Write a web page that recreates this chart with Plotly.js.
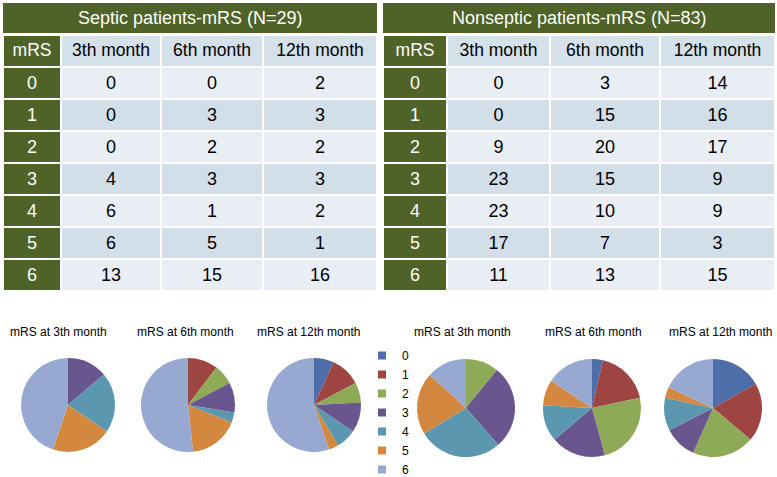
<!DOCTYPE html>
<html>
<head>
<meta charset="utf-8">
<script src="https://cdn.plot.ly/plotly-3.0.1.min.js"></script>
<style>html,body{margin:0;padding:0;background:#fff;overflow:hidden;}#chart{width:777px;height:477px;}</style>
</head>
<body>
<div id="chart"></div>
<script>
// ---- data ----
const mrsLevels = ['0','1','2','3','4','5','6'];
const monthLabels = ['3th month','6th month','12th month'];
const septicTitle = 'Septic patients-mRS (N=29)';
const nonsepticTitle = 'Nonseptic patients-mRS (N=83)';
const septic3 = [0,0,0,4,6,6,13];
const septic6 = [0,3,2,3,1,5,15];
const septic12 = [2,3,2,3,2,1,16];
const nonseptic3 = [0,0,9,23,23,17,11];
const nonseptic6 = [3,15,20,15,10,7,13];
const nonseptic12 = [14,16,17,9,9,3,15];
const pieTitles = ['mRS at 3th month','mRS at 6th month','mRS at 12th month'];
const sliceColors = ['#4F6DA8','#9E4543','#8EAA56','#6A568F','#5B97AE','#D4873F','#97A9D0'];

// ---- style ----
const W = 777, H = 477;
const GREEN = '#4F6228', LIGHT = '#E9EEF5', DARK = '#D2DFE8', HEAD = '#D5E1EA';
const FONT = 'Arial, "Liberation Sans", sans-serif';
const px = v => v / W, py = v => 1 - v / H;

function tableTrace(cols, x0, x1, widths) {
  const rowFill = mrsLevels.map((_, i) => i % 2 === 0 ? LIGHT : DARK);
  return {
    type: 'table',
    domain: {x: [px(x0), px(x1)], y: [py(292), py(35)]},
    columnwidth: widths,
    header: {
      values: ['mRS'].concat(monthLabels),
      align: 'center',
      height: 32,
      fill: {color: [GREEN, HEAD, HEAD, HEAD]},
      line: {color: '#FFFFFF', width: 2},
      font: {family: FONT, size: 17.5, color: ['#FFFFFF', '#000', '#000', '#000']}
    },
    cells: {
      values: [mrsLevels].concat(cols),
      align: 'center',
      height: 32,
      fill: {color: [mrsLevels.map(() => GREEN), rowFill, rowFill, rowFill]},
      line: {color: '#FFFFFF', width: 2},
      font: {family: FONT, size: 18, color: ['#FFFFFF', '#000', '#000', '#000']}
    }
  };
}

function pieTrace(vals, cx, cy, r) {
  return {
    type: 'pie',
    labels: mrsLevels,
    values: vals,
    sort: false,
    direction: 'clockwise',
    rotation: 0,
    textinfo: 'none',
    hoverinfo: 'label+value',
    showlegend: false,
    marker: {colors: sliceColors, line: {width: 0}},
    domain: {x: [px(cx - r), px(cx + r)], y: [py(cy + r), py(cy - r)]}
  };
}

const data = [
  tableTrace([septic3, septic6, septic12], 3, 377, [58, 100, 102, 114]),
  tableTrace([nonseptic3, nonseptic6, nonseptic12], 383, 775, [64, 103, 110, 115]),
  pieTrace(septic3, 68, 405, 47),
  pieTrace(septic6, 188, 405, 47),
  pieTrace(septic12, 314, 405, 47),
  pieTrace(nonseptic3, 466, 408, 49),
  pieTrace(nonseptic6, 592, 408, 49),
  pieTrace(nonseptic12, 713, 408, 49)
];
// legend entries (one per mRS level)
mrsLevels.forEach((lvl, i) => {
  data.push({
    type: 'scatter', mode: 'markers', x: [null], y: [null],
    name: lvl, legendgroup: 'g' + lvl,
    marker: {symbol: 'square', size: 8, color: sliceColors[i]},
    hoverinfo: 'skip', showlegend: true
  });
});

const titleX = [[58, 185, 308], [463, 593, 720]];
const annotations = [
  {text: septicTitle, x: px(190), y: py(18), xref: 'paper', yref: 'paper', showarrow: false,
   font: {family: FONT, size: 18, color: '#FFFFFF'}, xanchor: 'center', yanchor: 'middle'},
  {text: nonsepticTitle, x: px(579), y: py(18), xref: 'paper', yref: 'paper', showarrow: false,
   font: {family: FONT, size: 18, color: '#FFFFFF'}, xanchor: 'center', yanchor: 'middle'}
];
titleX.forEach(row => row.forEach((x, j) => {
  annotations.push({text: pieTitles[j], x: px(x), y: py(332), xref: 'paper', yref: 'paper',
    showarrow: false, xanchor: 'center', yanchor: 'middle',
    font: {family: FONT, size: 12, color: '#000'}});
}));

const layout = {
  width: W, height: H,
  margin: {l: 0, r: 0, t: 0, b: 0, pad: 0, autoexpand: false},
  paper_bgcolor: '#FFFFFF', plot_bgcolor: '#FFFFFF',
  xaxis: {visible: false}, yaxis: {visible: false},
  showlegend: true,
  legend: {x: px(362), y: py(341), xanchor: 'left', yanchor: 'top',
    font: {family: FONT, size: 12, color: '#000'}, tracegroupgap: 0,
    bgcolor: 'rgba(0,0,0,0)', borderwidth: 0, itemwidth: 30},
  shapes: [
    {type: 'rect', xref: 'paper', yref: 'paper', x0: px(3), x1: px(377), y0: py(33), y1: py(3), fillcolor: GREEN, line: {width: 0}},
    {type: 'rect', xref: 'paper', yref: 'paper', x0: px(383), x1: px(775), y0: py(33), y1: py(3), fillcolor: GREEN, line: {width: 0}}
  ],
  annotations: annotations
};

Plotly.newPlot('chart', data, layout, {displayModeBar: false, staticPlot: true});
</script>
</body>
</html>
